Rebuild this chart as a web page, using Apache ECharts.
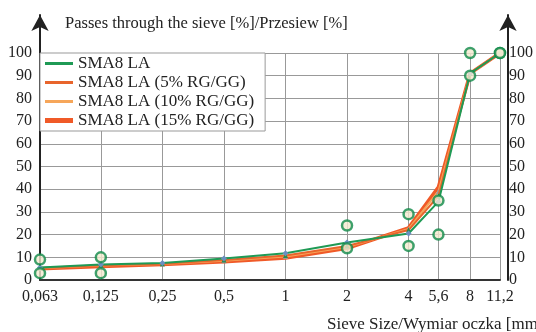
<!DOCTYPE html>
<html><head><meta charset="utf-8">
<script src="https://cdn.jsdelivr.net/npm/echarts@6/dist/echarts.min.js"></script>
<style>html,body{margin:0;padding:0;background:#fff}#c{width:536px;height:332px}</style>
</head><body><div id="c"></div>
<script>
var sieve = [0.063, 0.125, 0.25, 0.5, 1, 2, 4, 5.6, 8, 11.2];
var tickLabels = ['0,063','0,125','0,25','0,5','1','2','4','5,6','8','11,2'];
var sma = [5.5, 6.8, 7.5, 9.5, 11.8, 16.5, 20.5, 34.5, 91, 100];
var sma5 = [5.3, 6.5, 7.2, 8.8, 10.8, 15, 22, 37, 91, 100];
var sma10 = [5.2, 6.4, 7, 8.5, 10.3, 14.5, 22.5, 39, 91, 100];
var sma15 = [5, 6, 6.8, 8, 9.7, 14, 23, 41, 91, 100];
var upperLimit = [9, 10, null, null, null, 24, 29, 35, 100, 100];
var lowerLimit = [3, 3, null, null, null, 14, 15, 20, 90, 100];
var seriesNames = ['SMA8 LA', 'SMA8 LA (5% RG/GG)', 'SMA8 LA (10% RG/GG)', 'SMA8 LA (15% RG/GG)'];
var yTitle = 'Passes through the sieve [%]/Przesiew [%]';
var xTitle = 'Sieve Size/Wymiar oczka [mm]';

function pairs(vals){ var o=[]; for(var i=0;i<sieve.length;i++){ if(vals[i]!=null) o.push([sieve[i], vals[i]]); } return o; }
var FONT = '"Liberation Serif", "DejaVu Serif", serif';
var chart = echarts.init(document.getElementById('c'));
var lbl = {};
sieve.forEach(function(s,i){ lbl[s]=tickLabels[i]; });
var limitStyle = {color:'#f4ead0', borderColor:'#0f8a48', borderWidth:2.5};
var lineIcon = 'path://M0,0L28,0L28,3L0,3Z';
var thickIcon = 'path://M0,0L28,0L28,5L0,5Z';
chart.setOption({
  animation:false,
  textStyle:{fontFamily:FONT},
  title:[
    {text:yTitle, left:60, top:10, textStyle:{fontFamily:FONT, fontSize:16.5, fontWeight:'normal', color:'#222'}},
    {text:xTitle, left:322, top:311, textStyle:{fontFamily:FONT, fontSize:17, fontWeight:'normal', color:'#222'}}
  ],
  legend:{
    orient:'vertical', left:40, top:53, itemGap:2, itemWidth:28, itemHeight:16,
    padding:[2,11,2,5], backgroundColor:'#fff', borderColor:'#999', borderWidth:1,
    textStyle:{fontFamily:FONT, fontSize:17, color:'#222'},
    data:[
      {name:seriesNames[0], icon:lineIcon, itemStyle:{color:'#1f9a55'}},
      {name:seriesNames[1], icon:lineIcon, itemStyle:{color:'#e8652c'}},
      {name:seriesNames[2], icon:lineIcon, itemStyle:{color:'#f6a65a'}},
      {name:seriesNames[3], icon:thickIcon, itemStyle:{color:'#f05a28'}}
    ]
  },
  grid:[
    {left:40, right:28, top:53, bottom:52},
    {left:40, right:28, top:15, bottom:52}
  ],
  xAxis:[
    {type:'log', logBase:2, min:0.063, max:11.2, gridIndex:0,
     axisLine:{lineStyle:{color:'#333', width:2}},
     axisTick:{show:false, customValues:sieve},
     axisLabel:{customValues:sieve, formatter:function(v){ return lbl[v]!==undefined?lbl[v]:''; }, color:'#222', fontSize:16, fontFamily:FONT, margin:9},
     splitLine:{show:true, lineStyle:{color:'#999', width:1}},
     minorSplitLine:{show:false}},
    {type:'value', gridIndex:1, show:false, min:0, max:1}
  ],
  yAxis:[
    {type:'value', min:0, max:100, interval:10, position:'left', gridIndex:0,
     axisLine:{show:false}, axisTick:{show:false},
     axisLabel:{color:'#222', fontSize:16, fontFamily:FONT, margin:8},
     splitLine:{lineStyle:{color:'#999', width:1}}},
    {type:'value', min:0, max:100, interval:10, position:'right', gridIndex:0,
     axisLine:{show:false}, axisTick:{show:false},
     axisLabel:{color:'#222', fontSize:16, fontFamily:FONT, margin:9},
     splitLine:{show:false}},
    {type:'value', gridIndex:1, position:'left', min:0, max:1,
     axisLine:{show:true, onZero:false, symbol:['none','arrow'], symbolSize:[13,16], lineStyle:{color:'#222', width:2}},
     axisTick:{show:false}, axisLabel:{show:false}, splitLine:{show:false}},
    {type:'value', gridIndex:1, position:'right', min:0, max:1,
     axisLine:{show:true, onZero:false, symbol:['none','arrow'], symbolSize:[13,16], lineStyle:{color:'#222', width:2}},
     axisTick:{show:false}, axisLabel:{show:false}, splitLine:{show:false}}
  ],
  series:[
    {name:seriesNames[3], type:'line', data:pairs(sma15), symbol:'none', lineStyle:{color:'#f05a28', width:3.5}, itemStyle:{color:'#f05a28'}, z:2},
    {name:seriesNames[2], type:'line', data:pairs(sma10), symbol:'triangle', symbolSize:5, lineStyle:{color:'#f6a65a', width:2}, itemStyle:{color:'#9a9a9a'}, z:3},
    {name:seriesNames[1], type:'line', data:pairs(sma5), symbol:'triangle', symbolSize:5, lineStyle:{color:'#e8652c', width:2}, itemStyle:{color:'#2b8a4a'}, z:4},
    {name:seriesNames[0], type:'line', data:pairs(sma), symbol:'diamond', symbolSize:6, lineStyle:{color:'#1f9a55', width:2}, itemStyle:{color:'#6b8fc0'}, z:5},
    {name:'upper', type:'scatter', data:pairs(upperLimit), symbol:'circle', symbolSize:10, itemStyle:limitStyle, z:6},
    {name:'lower', type:'scatter', data:pairs(lowerLimit), symbol:'circle', symbolSize:10, itemStyle:limitStyle, z:6}
  ]
});
</script></body></html>
